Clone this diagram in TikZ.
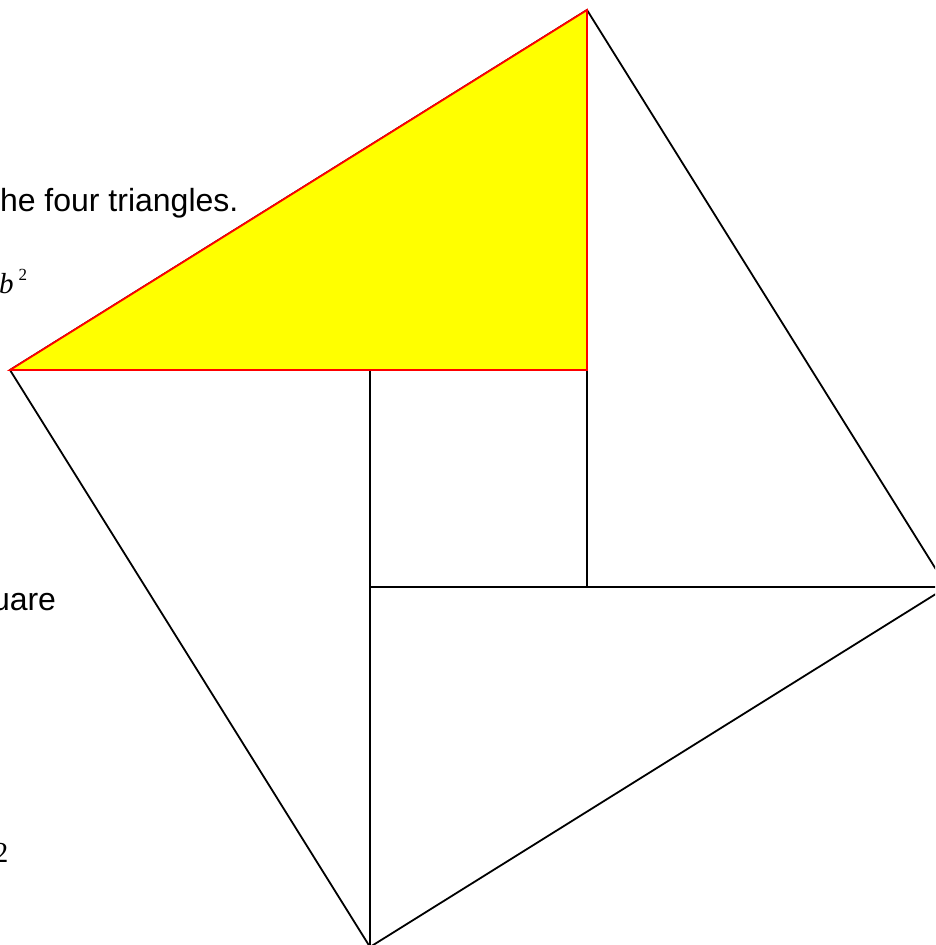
\documentclass[tikz,border=0pt]{standalone}
\usepackage{fontspec}
\setmainfont{Liberation Sans}
\newfontfamily\timesfont{Liberation Serif}
\definecolor{pyellow}{RGB}{255,255,0}
\definecolor{pred}{RGB}{255,0,0}
\begin{document}
\begin{tikzpicture}[x=1pt,y=-1pt,
  edge/.style={draw=black,line width=1.8pt,line join=miter},
  tri/.style={fill=pyellow,draw=pred,line width=1.8pt,line join=miter},
  bodytext/.style={inner sep=0pt,outer sep=0pt,font=\fontsize{32}{38}\selectfont},
  mathtext/.style={inner sep=0pt,outer sep=0pt,font=\timesfont\fontsize{29}{34}\selectfont}]
\useasboundingbox (0,0) rectangle (935,945);
\clip (0,0) rectangle (935,945);
\fill[white] (0,0) rectangle (935,945);
% text fragments (behind the figure)
\node[bodytext,anchor=base west] (t1) at (0,211) {he four triangles.};
\node[mathtext,anchor=base west] (t2) at (-1,293) {\textit{b}\hspace{5pt}\raisebox{13pt}{\fontsize{17}{19}\selectfont 2}};
\node[bodytext,anchor=base west] (t3) at (-8,610) {uare};
\node[mathtext,anchor=base west] (t4) at (-6,862) {2};
% geometry
\coordinate (A) at (10,370);
\coordinate (B) at (587,10);
\coordinate (C) at (947,587);
\coordinate (D) at (370,947);
\coordinate (H) at (370,370);
\coordinate (E) at (587,370);
\coordinate (F) at (587,587);
\coordinate (G) at (370,587);
\draw[edge] (A) -- (B) -- (C) -- (D) -- cycle;
\draw[edge] (E) -- (F);
\draw[edge] (G) -- (C);
\draw[edge] (H) -- (D);
\draw[tri] (A) -- (B) -- (E) -- cycle;
\end{tikzpicture}
\end{document}
